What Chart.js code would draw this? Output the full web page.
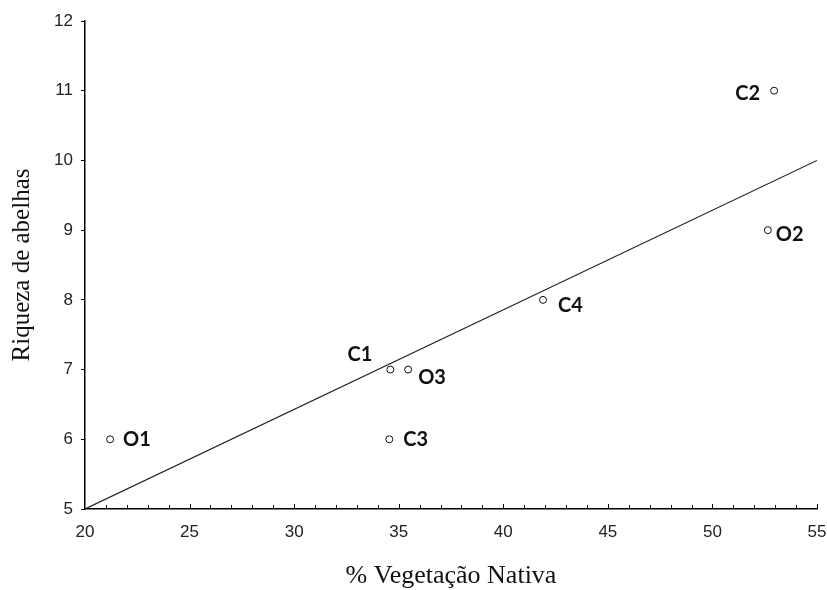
<!DOCTYPE html>
<html>
<head>
<meta charset="utf-8">
<script src="https://cdn.jsdelivr.net/npm/chart.js@4"></script>
<style>
  html, body { margin: 0; padding: 0; background: #fff; }
  #wrap { width: 827px; height: 590px; }
</style>
</head>
<body>
<div id="wrap"><canvas id="myChart" width="827" height="590"></canvas></div>
<script>
// pontos: % vegetação nativa vs riqueza de abelhas
var sites = ['O1', 'C1', 'O3', 'C3', 'C4', 'O2', 'C2'];
var vegetacao = [21.2, 34.6, 35.45, 34.55, 41.9, 52.65, 52.95];
var riqueza = [6, 7, 7, 6, 8, 9, 11];

// reta de regressão
var fitX = [20, 55];
var fitY = [5, 10];

var xTicks = [20, 25, 30, 35, 40, 45, 50, 55];
var yTicks = [5, 6, 7, 8, 9, 10, 11, 12];

// posição dos rótulos em relação ao ponto (dx, dy, alinhamento)
var labelPlace = {
    O1: [13, 0, 'left'],
    C1: [-18, -15, 'right'],
    O3: [10, 8, 'left'],
    C3: [14, 0, 'left'],
    C4: [15, 6, 'left'],
    O2: [8, 4, 'left'],
    C2: [-14, 3, 'right']
};

var pointLabels = {
    id: 'pointLabels',
    afterDatasetsDraw: function(chart) {
        var ctx = chart.ctx;
        var meta = chart.getDatasetMeta(1);
        ctx.save();
        ctx.font = 'bold 20px Lato, "Open Sans", sans-serif';
        ctx.fillStyle = '#111';
        ctx.textBaseline = 'middle';
        meta.data.forEach(function(pt, i) {
            var p = labelPlace[sites[i]];
            ctx.textAlign = p[2];
            ctx.fillText(sites[i], pt.x + p[0], pt.y + p[1]);
        });
        ctx.restore();
    }
};

// marcas do eixo x viradas para dentro
var innerTicks = {
    id: 'innerTicks',
    afterDraw: function(chart) {
        var ctx = chart.ctx;
        var xs = chart.scales.x;
        var base = chart.chartArea.bottom;
        ctx.save();
        ctx.strokeStyle = '#000';
        ctx.lineWidth = 1;
        for (var v = xs.min + 1; v <= xs.max; v++) {
            var px = Math.round(xs.getPixelForValue(v)) + 0.5;
            ctx.beginPath();
            ctx.moveTo(px, base);
            ctx.lineTo(px, base - (v % 5 === 0 ? 5 : 4));
            ctx.stroke();
        }
        ctx.restore();
    }
};

var scatterData = vegetacao.map(function(v, i) { return { x: v, y: riqueza[i] }; });
var fitData = fitX.map(function(v, i) { return { x: v, y: fitY[i] }; });

var ctx = document.getElementById('myChart').getContext('2d');
var myChart = new Chart(ctx, {
    type: 'scatter',
    data: {
        datasets: [{
                type: 'line',
                data: fitData,
                borderColor: '#222',
                borderWidth: 1.2,
                pointRadius: 0,
                fill: false
            },
            {
                data: scatterData,
                backgroundColor: '#fff',
                borderColor: '#111',
                borderWidth: 1,
                pointRadius: 3.5,
                pointHoverRadius: 3.5
            }
        ]
    },
    options: {
        responsive: false,
        animation: false,
        events: [],
        layout: { padding: { top: 21, right: 0, left: 0, bottom: 0 } },
        plugins: { legend: { display: false }, tooltip: { enabled: false } },
        scales: {
            x: {
                type: 'linear',
                min: 20,
                max: 55,
                afterFit: function(s) {
                    s.height = 81;
                    s.paddingLeft = 0;
                    s.paddingRight = 10;
                },
                afterBuildTicks: function(s) { s.ticks = xTicks.map(function(v) { return { value: v }; }); },
                grid: { display: false },
                border: { display: true, color: '#000', width: 1.5 },
                ticks: { color: '#222', padding: 5, font: { family: '"Liberation Sans", Arial', size: 17 } },
                title: {
                    display: true,
                    text: '% Vegetação Nativa',
                    color: '#111',
                    padding: { top: 0, bottom: 1 },
                    font: { family: '"Liberation Serif", "Times New Roman", serif', size: 26, lineHeight: 1 }
                }
            },
            y: {
                min: 5,
                max: 12,
                afterFit: function(s) { s.width = 85; },
                afterBuildTicks: function(s) { s.ticks = yTicks.map(function(v) { return { value: v }; }); },
                grid: { display: true, drawOnChartArea: false, drawTicks: true, tickLength: 4, color: '#000' },
                border: { display: true, color: '#000', width: 1.5 },
                ticks: { color: '#222', padding: 8, font: { family: '"Liberation Sans", Arial', size: 17 } },
                title: {
                    display: true,
                    text: 'Riqueza de abelhas',
                    color: '#111',
                    padding: { top: 10, bottom: 0 },
                    font: { family: '"Liberation Serif", "Times New Roman", serif', size: 25, lineHeight: 1 }
                }
            }
        }
    },
    plugins: [pointLabels, innerTicks]
});
</script>
</body>
</html>
